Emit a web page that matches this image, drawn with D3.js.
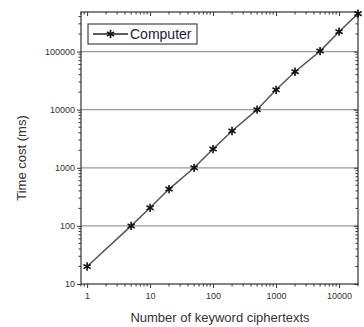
<!DOCTYPE html>
<html><head><meta charset="utf-8">
<script src="https://cdn.jsdelivr.net/npm/d3@7"></script>
<style>body{margin:0;background:#fff}svg{display:block;font-family:"Liberation Sans",Arial,sans-serif}</style>
</head><body><svg id="c" width="364" height="327"></svg>
<script>
const xValues = [1, 5, 10, 20, 50, 100, 200, 500, 1000, 2000, 5000, 10000, 20000];
const computerTime = [20, 100, 205, 430, 1000, 2100, 4300, 10000, 22000, 45000, 102000, 220000, 450000];
const xTickLabels = [1, 10, 100, 1000, 10000];
const yTickLabels = [10, 100, 1000, 10000, 100000];
const seriesName = "Computer";
const xTitle = "Number of keyword ciphertexts";
const yTitle = "Time cost (ms)";

const svg = d3.select("#c");
const L = 81, T = 12, R = 358, B = 284;
const x = d3.scaleLog().domain([0.8, 20000]).range([L, R]);
const y = d3.scaleLog().domain([10, 480000]).range([B, T]);

function minors(dom){
  const out=[];
  for(let d=Math.pow(10,Math.floor(Math.log10(dom[0]))); d<=dom[1]; d*=10){
    for(let k=1;k<10;k++){const v=k*d; if(v>=dom[0]&&v<=dom[1]) out.push(v);}
  }
  return out;
}
const xm = minors(x.domain()).filter(v=>!xTickLabels.includes(v));
const ym = minors(y.domain()).filter(v=>!yTickLabels.includes(v));

// grid
svg.append("g").selectAll("line").data(yTickLabels.filter(v=>v>10)).join("line")
  .attr("x1",L).attr("x2",R).attr("y1",d=>y(d)).attr("y2",d=>y(d))
  .attr("stroke","#9a9a9a").attr("stroke-width",1.3);

const tk = "#333";
const gx = svg.append("g").attr("transform",`translate(0,${B})`)
  .call(d3.axisBottom(x).tickValues(xTickLabels).tickFormat(d3.format("d")).tickSize(4).tickPadding(5));
gx.append("g").selectAll("line").data(xm).join("line").attr("x1",d=>x(d)).attr("x2",d=>x(d)).attr("y1",0).attr("y2",2.5).attr("stroke",tk);
const gt = svg.append("g").attr("transform",`translate(0,${T})`)
  .call(d3.axisBottom(x).tickValues(xTickLabels).tickFormat("").tickSize(4));
gt.append("g").selectAll("line").data(xm).join("line").attr("x1",d=>x(d)).attr("x2",d=>x(d)).attr("y1",0).attr("y2",2.5).attr("stroke",tk);
const gy = svg.append("g").attr("transform",`translate(${L},0)`)
  .call(d3.axisLeft(y).tickValues(yTickLabels).tickFormat(d3.format("d")).tickSize(4).tickPadding(2));
gy.append("g").selectAll("line").data(ym).join("line").attr("y1",d=>y(d)).attr("y2",d=>y(d)).attr("x1",0).attr("x2",-2.5).attr("stroke",tk);
const gr = svg.append("g").attr("transform",`translate(${R},0)`)
  .call(d3.axisLeft(y).tickValues(yTickLabels).tickFormat("").tickSize(4));
gr.append("g").selectAll("line").data(ym).join("line").attr("y1",d=>y(d)).attr("y2",d=>y(d)).attr("x1",0).attr("x2",-2.5).attr("stroke",tk);

[gx,gt,gy,gr].forEach(g=>{
  g.select(".domain").remove();
  g.selectAll(".tick line").attr("stroke",tk);
  g.selectAll("text").attr("fill","#333").style("font-size","9px").style("font-family","'Liberation Sans',Arial,sans-serif");
});
svg.append("rect").attr("x",L).attr("y",T).attr("width",R-L).attr("height",B-T)
  .attr("fill","none").attr("stroke","#333").attr("stroke-width",1.2);

const pts = xValues.map((v,i)=>[v,computerTime[i]]);
svg.append("path").datum(pts)
  .attr("d",d3.line().x(d=>x(d[0])).y(d=>y(d[1])))
  .attr("fill","none").attr("stroke","#555").attr("stroke-width",1.5);
const star = d3.symbol().type(d3.symbolAsterisk).size(48);
svg.append("g").selectAll("path").data(pts).join("path")
  .attr("transform",d=>`translate(${x(d[0])},${y(d[1])})`)
  .attr("d",star).attr("stroke","#111").attr("stroke-width",1.6).attr("fill","none");

const lg = svg.append("g");
lg.append("rect").attr("x",88).attr("y",24).attr("width",109).attr("height",20)
  .attr("fill","#fff").attr("stroke","#444").attr("stroke-width",1.2);
lg.append("line").attr("x1",93).attr("x2",128).attr("y1",34).attr("y2",34).attr("stroke","#222").attr("stroke-width",1.3);
lg.append("path").attr("transform","translate(110.5,34)").attr("d",star).attr("stroke","#111").attr("stroke-width",1.6).attr("fill","none");
lg.append("text").attr("x",130).attr("y",39).text(seriesName).attr("fill","#222238").style("font-size","14px");

svg.append("text").attr("x",220).attr("y",322).attr("text-anchor","middle")
  .attr("fill","#333").style("font-size","13px").text(xTitle);
svg.append("text").attr("transform",`translate(26,158) rotate(-90)`).attr("text-anchor","middle")
  .attr("fill","#333").style("font-size","13px").text(yTitle);
</script></body></html>
